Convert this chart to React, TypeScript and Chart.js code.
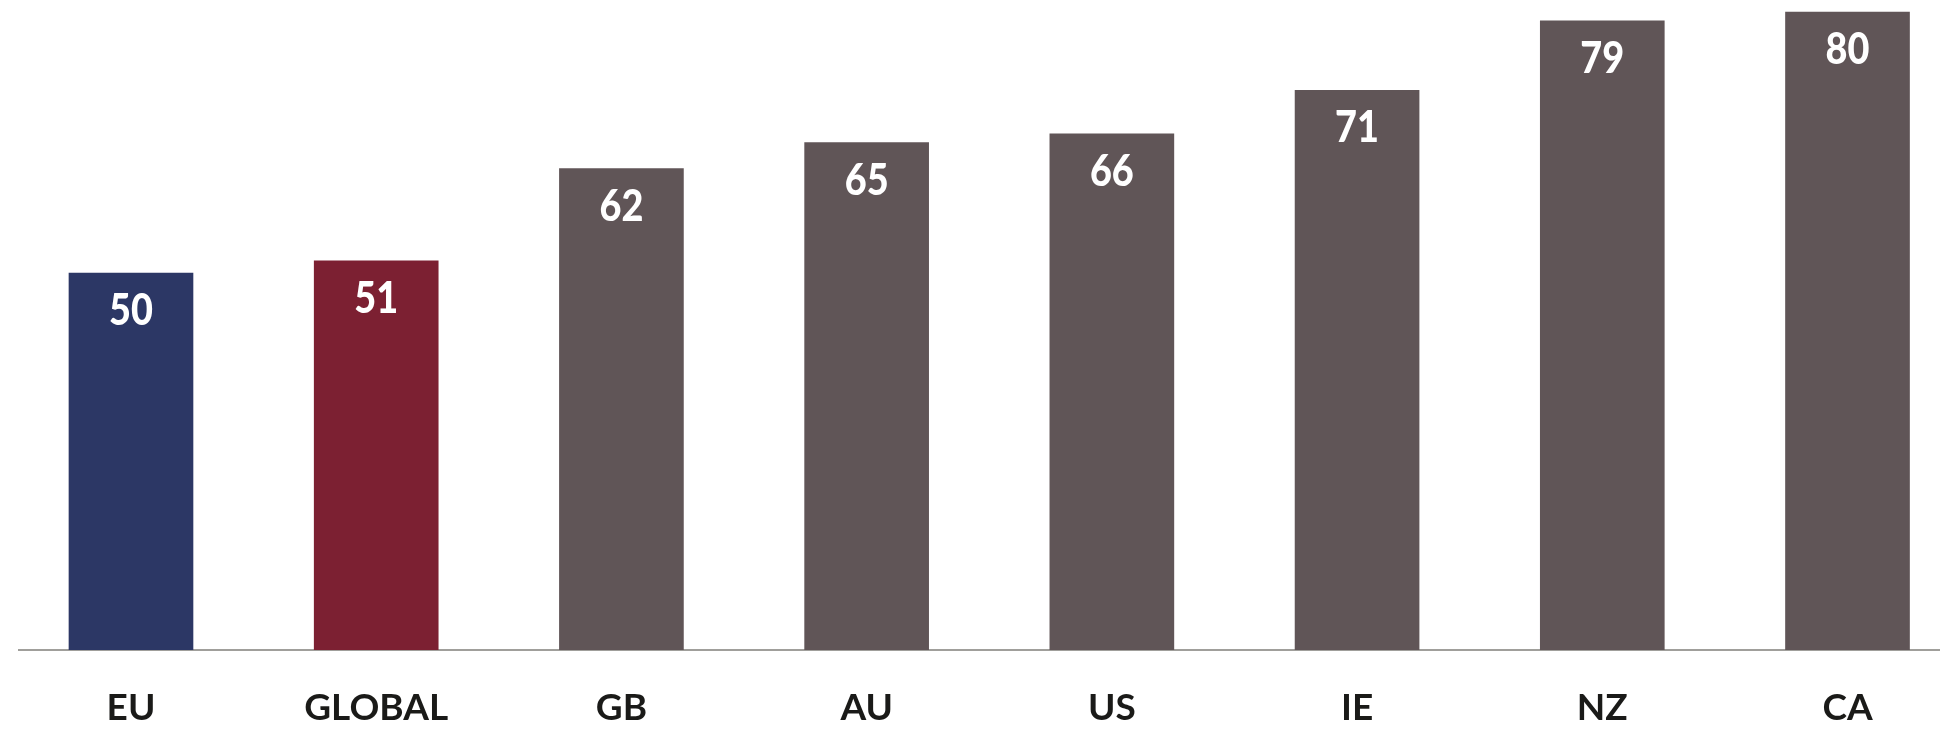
import React, { useEffect, useRef } from "react";
import { Chart, registerables } from "chart.js";

Chart.register(...registerables);

const categories: string[] = ["EU", "GLOBAL", "GB", "AU", "US", "IE", "NZ", "CA"];
const values: number[] = [50, 51.4, 62, 65, 66, 71, 79, 80];
const valueLabels: string[] = ["50", "51", "62", "65", "66", "71", "79", "80"];
const barColors: string[] = ["#2c3765", "#7c2032", "#605557", "#605557", "#605557", "#605557", "#605557", "#605557"];

const valueLabelPlugin = {
  id: "valueLabels",
  afterDatasetsDraw(chart: any) {
    const ctx = chart.ctx;
    const meta = chart.getDatasetMeta(0);
    ctx.save();
    ctx.fillStyle = "#ffffff";
    ctx.textAlign = "center";
    ctx.textBaseline = "alphabetic";
    ctx.font = "900 44px Lato";
    meta.data.forEach((bar: any, i: number) => {
      ctx.save();
      ctx.translate(bar.x, bar.y + 52);
      ctx.scale(0.86, 1);
      ctx.fillText(valueLabels[i], 0, 0);
      ctx.restore();
    });
    ctx.restore();
  },
};

export default function App() {
  const ref = useRef<HTMLCanvasElement | null>(null);
  useEffect(() => {
    if (!ref.current) return;
    const chart = new Chart(ref.current, {
      type: "bar",
      data: {
        datasets: [
          {
            data: categories.map((c, i) => ({ x: i, y: values[i] })),
            backgroundColor: barColors,
            borderWidth: 0,
            barThickness: 124,
          } as any,
        ],
      },
      options: {
        animation: false,
        responsive: false,
        maintainAspectRatio: false,
        layout: { padding: { left: 19, right: 0, top: 0, bottom: 0 } },
        plugins: { legend: { display: false }, tooltip: { enabled: false } },
        scales: {
          x: {
            type: "linear",
            offset: false,
            min: -0.4567,
            max: 7.3772,
            grid: { display: false, drawTicks: false, offset: false },
            border: { display: true, color: "#a09f9b", width: 2 },
            afterBuildTicks: (scale: any) => {
              scale.ticks = categories.map((_, i) => ({ value: i }));
            },
            afterFit: (scale: any) => {
              scale.height = 104;
            },
            ticks: {
              autoSkip: false,
              maxRotation: 0,
              padding: 36,
              color: "#1a1a18",
              font: { family: "Lato", size: 37, weight: "bold" },
              callback: (v: any) => categories[Math.round(Number(v))] ?? "",
            },
          },
          y: {
            display: false,
            min: 6.67,
            max: 81.38,
          },
        },
      },
      plugins: [valueLabelPlugin],
    });
    return () => chart.destroy();
  }, []);
  return (
    <div style={{ position: "fixed", left: 0, top: 0, width: 1940, height: 754, background: "#ffffff" }}>
      <canvas ref={ref} width={1940} height={754} style={{ width: 1940, height: 754 }} />
    </div>
  );
}
